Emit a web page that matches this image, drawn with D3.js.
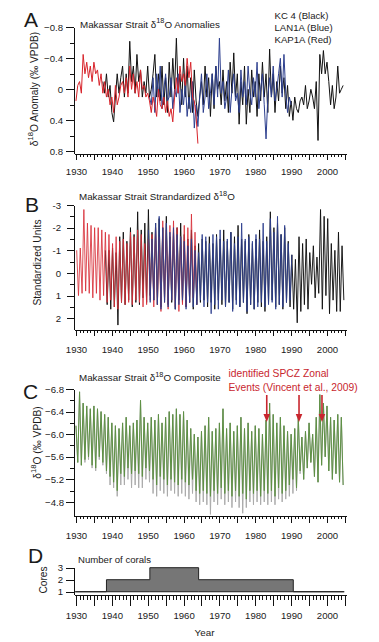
<!DOCTYPE html>
<html><head><meta charset="utf-8">
<script src="https://cdn.jsdelivr.net/npm/d3@7"></script>
<style>
body{margin:0;background:#fff}
svg{display:block}
text{font-family:"Liberation Sans",Arial,Helvetica,sans-serif;fill:#1a1a1a}
</style></head><body>
<svg id="c" width="379" height="642"></svg>
<script>
// ---------- DATA ----------
// Panel A: δ18O anomalies (half-year steps)
const anomRedStart = 1930.0;
const anomRed = [0.15,-0.05, -0.1,0.05, -0.45,-0.2, -0.35,-0.15, -0.3,-0.1, -0.35,-0.2, -0.25,-0.05, -0.2,0.05, -0.1,0.1, 0.0,0.2,
  0.1,0.3, -0.05,0.2, 0.1,-0.05, -0.1,0.05, -0.15,0.1, -0.3,0.0, -0.2,0.05, -0.1,0.1, -0.25,0.0, -0.05,0.1,
  0.05,0.15, 0.3,0.1, 0.2,0.35, 0.0,0.2, 0.25,0.1, 0.3,0.15, 0.35,0.25, 0.42,0.1, -0.15,0.05, -0.3,-0.1,
  -0.2,-0.05, -0.4,-0.15, -0.35,0.1, 0.15,0.35, 0.7];
const anomBlackStart = 1937.5;
const anomBlack = [-0.1,
  0.05,-0.2, 0.1,-0.05, 0.3,0.42, 0.1,-0.2, 0.05,-0.15, -0.3,0.1, -0.2,0.05, -0.62,-0.1, -0.3,0.05, -0.45,-0.1, -0.25,0.1, -0.1,0.05,
  -0.3,0.1, 0.0,-0.2, -0.45,0.1, -0.2,0.15, -0.3,0.2, -0.15,0.3, -0.35,0.1, -0.4,0.0, -0.66,0.05, -0.2,0.2,
  -0.4,0.1, -0.3,0.25, -0.15,0.3, -0.25,0.15, 0.35,0.1, -0.1,0.2, -0.3,0.1, -0.15,0.35, -0.2,0.25, -0.3,0.0,
  -0.1,0.2, -0.25,0.15, -0.1,0.3, -0.35,0.05, -0.47,0.1, -0.2,0.45, -0.1,0.2, -0.3,0.45, 0.0,0.3, -0.25,0.1,
  -0.1,0.35, -0.2,0.15, -0.35,0.1, -0.2,0.3, -0.52,0.1, -0.2,0.3, -0.1,0.15, -0.3,0.05, -0.15,0.25, -0.05,0.35,
  0.15,0.4, 0.1,0.25, 0.3,0.15, 0.1,0.2, -0.05,0.25, 0.15,0.0, 0.1,0.25, -0.1,0.66, -0.45,-0.2, -0.5,-0.2,
  -0.35,-0.1, 0.2,-0.05, 0.25,0.1, -0.3,0.05, 0.0,-0.05];
const anomBlueStart = 1950.5;
const anomBlue = [0.1,
  0.2,-0.15, 0.3,-0.2, 0.1,-0.3, 0.25,0.0, -0.2,0.15, 0.1,-0.15, 0.25,0.0, 0.1,-0.2, 0.3,0.0,
  0.2,-0.1, 0.35,0.1, 0.3,-0.1, 0.5,0.2, 0.48,0.1, -0.2,0.3, 0.1,-0.2, 0.25,0.05, -0.2,0.2, -0.3,0.1,
  -0.66,0.05, -0.1,0.25, 0.1,-0.25, 0.3,0.0, -0.2,0.15, 0.05,0.3, -0.25,0.1, -0.1,0.2, -0.3,0.05, 0.2,-0.15,
  0.1,-0.35, 0.25,0.0, -0.2,0.2, 0.64,0.1, -0.15,0.1, -0.3,0.15, 0.0,-0.2, -0.4,0.1, -0.45,0.05, 0.3,0.1,
  0.2];

// Panel B: standardized δ18O (peak, trough per year)
const stdRedStart = 1930.2;
const stdRed = [-1.0,1.0, -1.1,0.9, -2.8,0.8, -2.2,0.9, -2.1,1.1, -2.0,0.9, -2.0,1.2, -1.9,1.0, -1.8,1.3, -1.7,1.2,
  -1.3,1.5, -1.6,1.6, -1.4,1.3, -1.5,1.4, -1.3,1.3, -1.8,1.4, -1.6,1.2, -1.9,1.3, -1.7,1.5, -1.3,1.4,
  -1.5,1.2, -1.7,1.5, -2.0,1.4, -1.6,1.7, -2.3,1.3, -1.9,1.6, -2.1,1.2, -2.3,1.5, -2.0,1.7, -1.6,1.4,
  -2.1,1.5, -2.0,1.3, -2.6,1.1, -1.8,1.4];
const stdBlackStart = 1938.2;
const stdBlack = [-1.0,1.4, -1.0,1.6, -1.1,1.5, -0.9,2.3, -1.6,1.3, -1.8,1.4, -1.4,1.2, -2.0,1.5, -1.7,1.3, -2.7,1.4,
  -1.9,1.1, -2.2,1.3, -2.8,1.0, -1.8,1.2, -2.2,1.4, -2.4,1.5, -2.0,1.2, -2.5,1.4, -1.6,1.3, -1.8,1.6,
  -2.0,1.2, -2.2,1.3, -1.7,1.5, -1.5,1.3, -1.9,1.6, -1.2,1.4, -1.3,1.3, -1.5,1.2, -1.4,1.5, -1.6,1.3,
  -1.3,1.6, -1.7,1.2, -1.5,1.4, -1.9,1.5, -1.4,1.3, -1.8,1.6, -1.6,1.2, -2.1,1.5, -1.5,1.3, -1.4,1.8,
  -1.7,1.4, -1.3,1.6, -1.5,1.3, -1.9,1.5, -1.4,1.7, -1.6,1.3, -2.7,1.2, -2.0,1.5, -2.2,1.4, -1.7,1.6,
  -2.0,1.3, -1.4,1.5, -0.8,1.6, -0.6,2.2, -1.6,1.7, -1.3,1.4, -1.5,1.6, -0.9,0.5, -1.2,1.1, -0.7,0.9,
  -2.8,1.6, -2.5,1.0, -2.4,1.8, -1.3,1.2, -1.0,1.7, -1.8,1.7, -1.2,1.2];
const stdBlueStart = 1950.2;
const stdBlue = [-1.9,1.3, -1.5,1.2, -2.2,1.4, -2.5,1.6, -2.0,1.3, -2.2,1.5, -1.8,1.2, -2.0,1.6, -1.7,1.4, -1.6,1.2,
  -1.4,1.6, -1.2,1.3, -1.5,1.5, -1.0,1.4, -0.9,1.2, -1.7,1.5, -1.6,1.3, -1.3,1.8, -1.7,1.4, -1.6,1.6,
  -1.9,1.2, -1.4,1.5, -1.5,1.3, -1.8,1.7, -1.3,1.4, -1.6,1.5, -2.2,1.3, -1.5,1.7, -1.6,1.4, -1.4,1.6,
  -1.7,1.5, -1.5,1.3, -2.2,1.5, -1.4,1.4, -2.4,1.3, -1.8,1.6, -2.5,1.4, -1.7,1.5, -2.1,1.3, -1.3,1.2, -0.8];

// Panel C: composite δ18O (peak, trough per year) and grey envelope troughs
const compStart = 1930.0;
const compGreen = [-6.15,-5.5, -6.75,-5.45, -6.55,-5.55, -6.5,-5.6, -6.45,-5.45, -6.5,-5.4, -6.45,-5.6, -6.4,-5.5, -6.35,-5.35, -6.3,-5.25,
  -6.2,-5.15, -6.15,-5.0, -6.1,-5.3, -6.2,-5.25, -6.3,-5.4, -6.15,-5.3, -6.2,-5.35, -6.25,-5.3, -6.6,-5.25, -6.3,-5.4,
  -6.2,-5.35, -6.3,-5.2, -6.25,-5.1, -6.35,-5.25, -6.2,-5.2, -6.3,-5.1, -6.4,-5.2, -6.35,-5.15, -6.45,-5.1, -6.35,-5.2,
  -6.4,-5.15, -6.25,-5.1, -6.1,-5.2, -6.0,-5.0, -5.95,-4.95, -6.05,-5.0, -6.15,-4.95, -6.3,-4.9, -6.05,-5.0, -6.1,-4.95,
  -6.2,-5.05, -6.45,-4.95, -6.1,-5.0, -6.2,-4.9, -6.05,-5.0, -6.15,-4.9, -6.3,-4.95, -6.1,-4.85, -6.2,-5.0, -6.05,-4.95,
  -6.15,-5.0, -6.1,-4.9, -6.0,-5.0, -6.25,-4.95, -6.55,-5.0, -6.35,-4.9, -6.2,-5.05, -6.3,-4.95, -6.15,-5.0, -6.05,-5.1,
  -6.0,-5.2, -6.1,-5.05, -6.3,-5.35, -5.95,-5.2, -6.05,-5.4, -6.2,-5.5, -6.0,-5.25, -6.3,-5.15, -6.7,-5.45, -6.55,-5.6,
  -6.5,-5.35, -6.3,-5.2, -6.25,-5.3, -6.35,-5.15, -6.3,-5.1];
const compGreyTroughs = [-5.5, -5.45, -5.5, -5.55, -5.4, -5.35, -5.55, -5.45, -5.3, -5.1,
  -5.05, -4.9, -5.1, -5.1, -5.2, -5.05, -5.1, -5.05, -5.05, -5.2,
  -5.15, -4.95, -4.9, -5.0, -4.95, -4.9, -5.0, -4.95, -4.9, -4.95,
  -4.9, -4.85, -4.95, -4.8, -4.75, -4.8, -4.75, -4.58, -4.8, -4.75,
  -4.85, -4.75, -4.8, -4.7, -4.8, -4.7, -4.6, -4.7, -4.8, -4.75,
  -4.8, -4.75, -4.8, -4.75, -4.8, -4.75, -4.85, -4.8, -4.85, -4.9,
  -4.95, -5.0, -5.3, -5.2, -5.4, -5.5, -5.25, -5.15, -5.45, -5.6,
  -5.35, -5.2, -5.3, -5.15, -5.1];
const spczEventYears = [1983.2, 1992.2, 1998.6];

// Panel D: number of corals
const coralYears = [1929.8, 1938.5, 1950.6, 1964.2, 1990.6, 2004.8];
const coralCounts = [1, 2, 3, 2, 1, 1];

// Axis tick labels
const yearLabels = [1930, 1940, 1950, 1960, 1970, 1980, 1990, 2000];
const ticksA = [-0.8, -0.4, 0, 0.4, 0.8];
const ticksB = [-3, -2, -1, 0, 1, 2];
const ticksC = [-6.8, -6.4, -6.0, -5.6, -5.2, -4.8];
const ticksD = [1, 2, 3];

// ---------- DRAW ----------
const svg = d3.select("#c");
const x = d3.scaleLinear().domain([1929.45, 2005.3]).range([74, 346]);
const halfSteps = (start, vals) => vals.map((v, i) => [start + i * 0.5, v]);

function xAxis(yPos, minorLen, majorLen, pad) {
  const g = svg.append("g").attr("transform", `translate(0,${yPos})`);
  g.append("g").call(d3.axisBottom(x).tickValues(d3.range(1930, 2006)).tickSize(minorLen).tickSizeOuter(0).tickFormat(""));
  const mj = g.append("g").call(d3.axisBottom(x).tickValues(d3.range(1930, 2006, 5)).tickSize(majorLen).tickSizeOuter(0).tickPadding(pad)
    .tickFormat(d => yearLabels.includes(d) ? d : ""));
  mj.select(".domain").remove();
  g.selectAll("text").attr("font-size", 9.6).attr("font-family", "Liberation Sans, Arial, sans-serif").attr("fill", "#1a1a1a");
  g.selectAll("line,path").attr("stroke", "#111").attr("shape-rendering", "crispEdges");
}
function yAxis(scale, majors, minors, majLen, minLen, pad, fmt) {
  const g = svg.append("g").attr("transform", "translate(74,0)");
  g.append("g").call(d3.axisLeft(scale).tickValues(minors).tickSize(minLen).tickSizeOuter(0).tickFormat(""));
  const mj = g.append("g").call(d3.axisLeft(scale).tickValues(majors).tickSize(majLen).tickSizeOuter(0).tickPadding(pad).tickFormat(fmt));
  mj.select(".domain").remove();
  g.selectAll("text").attr("font-size", 9.6).attr("font-family", "Liberation Sans, Arial, sans-serif").attr("fill", "#1a1a1a");
  g.selectAll("line,path").attr("stroke", "#111").attr("shape-rendering", "crispEdges");
}
function clip(id, y0, y1) {
  svg.append("clipPath").attr("id", id).append("rect").attr("x", 74).attr("y", y0).attr("width", 273).attr("height", y1 - y0);
}
function label(txt, xPos, yPos, size, anchor) {
  return svg.append("text").attr("x", xPos).attr("y", yPos).attr("font-size", size).attr("text-anchor", anchor || "start").text(txt);
}
function supText(xPos, yPos, size, pre, sup, post, rotate) {
  const t = svg.append("text").attr("font-size", size);
  if (rotate) t.attr("transform", `translate(${xPos},${yPos}) rotate(-90)`).attr("text-anchor", "middle");
  else t.attr("x", xPos).attr("y", yPos);
  t.append("tspan").text(pre);
  t.append("tspan").attr("dy", -size * 0.42).attr("font-size", size * 0.75).text(sup);
  t.append("tspan").attr("dy", size * 0.42).text(post);
  return t;
}
function panelLetter(txt, xPos, yPos) {
  svg.append("text").attr("x", xPos).attr("y", yPos).attr("font-size", 21).attr("font-family", "Open Sans, Liberation Sans, sans-serif")
    .attr("fill", "#000").text(txt);
}

// ----- Panel A -----
const yA = d3.scaleLinear().domain([-0.8, 0.828]).range([27.3, 153.5]);
clip("clipA", 20, 153.5);
const lineA = d3.line().x(d => x(d[0])).y(d => yA(d[1]));
const gA = svg.append("g").attr("clip-path", "url(#clipA)").attr("fill", "none").attr("stroke-width", 1).attr("stroke-linejoin", "round");
gA.append("path").attr("d", lineA(halfSteps(anomBlackStart, anomBlack))).attr("stroke", "#111");
gA.append("path").attr("d", lineA(halfSteps(anomBlueStart, anomBlue))).attr("stroke", "#2d3f8e");
gA.append("path").attr("d", lineA(halfSteps(anomRedStart, anomRed))).attr("stroke", "#d8242b");
yAxis(yA, ticksA, [-0.6, -0.2, 0.2, 0.6], 8, 4, 3, d => d === 0 ? "0" : d3.format(".1f")(d));
xAxis(153.5, 3, 6, 9);
panelLetter("A", 24, 27);
supText(80, 27.5, 9.8, "Makassar Strait δ", "18", "O Anomalies");
label("KC 4 (Black)", 274.5, 19, 9.6);
label("LAN1A (Blue)", 274.5, 31, 9.6);
label("KAP1A (Red)", 274.5, 42.5, 9.6);
supText(37.5, 89, 10.2, "δ", "18", "O Anomaly (‰ VPDB)", true);

// ----- Panel B -----
const yB = d3.scaleLinear().domain([-3, 2.5]).range([205, 329.6]);
clip("clipB", 195, 329.6);
const lineB = d3.line().x(d => x(d[0])).y(d => yB(d[1]));
const gB = svg.append("g").attr("clip-path", "url(#clipB)").attr("fill", "none").attr("stroke-width", 1).attr("stroke-linejoin", "round");
gB.append("path").attr("d", lineB(halfSteps(stdBlackStart, stdBlack))).attr("stroke", "#111").attr("stroke-opacity", 0.95);
gB.append("path").attr("d", lineB(halfSteps(stdRedStart, stdRed))).attr("stroke", "#d8303a").attr("stroke-opacity", 0.85);
gB.append("path").attr("d", lineB(halfSteps(stdBlueStart, stdBlue))).attr("stroke", "#2d3f8e").attr("stroke-opacity", 0.9);
yAxis(yB, ticksB, [-2.5, -1.5, -0.5, 0.5, 1.5], 7, 4, 6, d => d);
xAxis(329.6, 3, 6, 11);
panelLetter("B", 25, 212);
supText(79, 200, 9.8, "Makassar Strait Strandardized δ", "18", "O");
label("Standardized Units", 0, 0, 10.2, "middle").attr("transform", "translate(40.5,262.5) rotate(-90)");

// ----- Panel C -----
const yC = d3.scaleLinear().domain([-6.8, -4.55]).range([389, 516.1]);
clip("clipC", 380, 516);
const lineC = d3.line().x(d => x(d[0])).y(d => yC(d[1]));
const greenPts = halfSteps(compStart, compGreen);
const greyPts = greenPts.map((p, i) => i % 2 === 1 ? [p[0], compGreyTroughs[(i - 1) / 2]] : p);
const gC = svg.append("g").attr("clip-path", "url(#clipC)").attr("fill", "none").attr("stroke-width", 1).attr("stroke-linejoin", "round");
gC.append("path").attr("d", lineC(greyPts)).attr("stroke", "#ababab");
gC.append("path").attr("d", lineC(greenPts)).attr("stroke", "#5e9144");
yAxis(yC, ticksC, [-6.6, -6.2, -5.8, -5.4, -5.0], 8, 4, 2, d3.format(".1f"));
xAxis(516, 3, 7, 9);
panelLetter("C", 23, 398.5);
supText(79, 381, 9.8, "Makassar Strait δ", "18", "O Composite");
supText(40.5, 442.5, 10.2, "δ", "18", "O (‰ VPDB)", true);
const red = "#c8262e";
svg.append("text").attr("x", 228.5).attr("y", 377).attr("font-size", 10.3).attr("font-family", "Open Sans, Liberation Sans, sans-serif")
  .style("fill", red).text("identified SPCZ Zonal");
svg.append("text").attr("x", 228.5).attr("y", 391).attr("font-size", 10.3).attr("font-family", "Open Sans, Liberation Sans, sans-serif")
  .style("fill", red).text("Events (Vincent et al., 2009)");
const arr = svg.append("g");
spczEventYears.forEach(yr => {
  const xx = x(yr);
  arr.append("line").attr("x1", xx).attr("x2", xx).attr("y1", 395).attr("y2", 415).attr("stroke", red).attr("stroke-width", 1.6);
  arr.append("path").attr("d", `M${xx - 3.3},${414} L${xx + 3.3},${414} L${xx},${422} Z`).attr("fill", red);
});

// ----- Panel D -----
const yD = d3.scaleLinear().domain([0.77, 3]).range([594.5, 567.7]);
const coralPts = coralYears.map((yr, i) => [yr, coralCounts[i]]);
svg.append("path").datum(coralPts)
  .attr("d", d3.area().x(d => x(d[0])).y0(yD(1)).y1(d => yD(d[1])).curve(d3.curveStepAfter))
  .attr("fill", "#767676").attr("stroke", "#222").attr("stroke-width", 1);
yAxis(yD, ticksD, [], 8, 0, 3, d => d);
xAxis(594.5, 5, 11, 7);
panelLetter("D", 28, 563);
label("Number of corals", 78, 562.5, 9.6);
label("Cores", 0, 0, 10.2, "middle").attr("transform", "translate(47,580) rotate(-90)");
label("Year", 204.5, 636, 9.8, "middle");
</script>
</body></html>
